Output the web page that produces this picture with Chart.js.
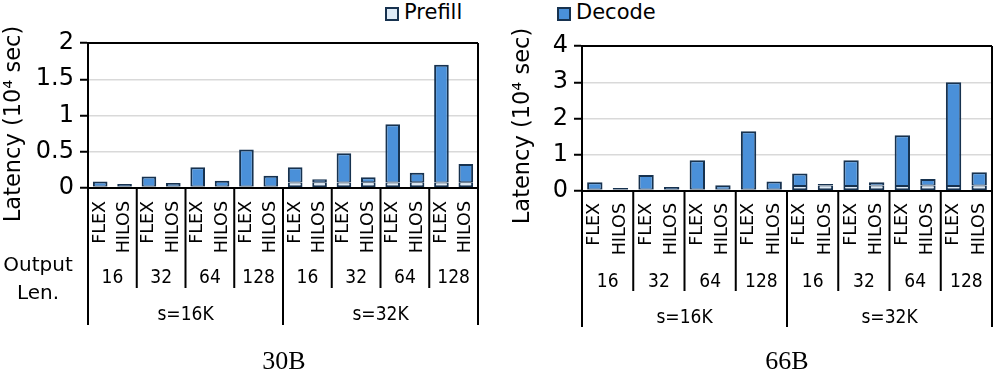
<!DOCTYPE html>
<html>
<head>
<meta charset="utf-8">
<script src="https://cdn.jsdelivr.net/npm/chart.js@4.4.0/dist/chart.umd.min.js"></script>
<style>
  body { margin: 0; background: #fff; }
  #page { position: relative; width: 997px; height: 372px; overflow: hidden; font-family: 'DejaVu Sans', sans-serif; }
  .panel { position: absolute; top: 0; }
  .key { position: absolute; top: 0; font-size: 21px; line-height: 24px; color: #000; }
  .box { position: absolute; top: 7px; width: 10px; height: 10px; border: 2px solid #17324f; }
</style>
</head>
<body>
<div id="page">
  <div class="box" style="left:385px;background:#deebf7"></div>
  <div class="key" style="left:404px">Prefill</div>
  <div class="box" style="left:557px;background:#4a90d9"></div>
  <div class="key" style="left:576px">Decode</div>
  <div class="panel" style="left:0"><canvas id="chart30" width="495" height="372"></canvas></div>
  <div class="panel" style="left:497px"><canvas id="chart66" width="500" height="372"></canvas></div>
</div>
<script>
// category levels
const systems = ['FLEX', 'HILOS'];
const outputLens = ['16', '32', '64', '128'];
const seqLens = ['s=16K', 's=32K'];

// 30B model, latency in 10^4 sec
const prefill30 = [0.02, 0.02, 0.02, 0.02, 0.02, 0.02, 0.02, 0.02, 0.075, 0.08, 0.075, 0.08, 0.075, 0.08, 0.075, 0.08];
const decode30 = [0.07, 0.035, 0.14, 0.05, 0.265, 0.08, 0.51, 0.15, 0.21, 0.04, 0.405, 0.07, 0.805, 0.13, 1.625, 0.25];
const ticks30 = [0, 0.5, 1, 1.5, 2];

// 66B model
const prefill66 = [0.04, 0.04, 0.04, 0.04, 0.04, 0.04, 0.04, 0.04, 0.14, 0.15, 0.14, 0.15, 0.14, 0.15, 0.14, 0.15];
const decode66 = [0.20, 0.04, 0.40, 0.07, 0.81, 0.12, 1.61, 0.22, 0.34, 0.04, 0.71, 0.09, 1.40, 0.18, 2.86, 0.37];
const ticks66 = [0, 1, 2, 3, 4];

const PREFILL_COLOR = '#deebf7';
const DECODE_COLOR = '#4a90d9';
const EDGE = '#17324f';
const FONT = "'DejaVu Sans', sans-serif";
const NARROW = "'DejaVu Sans Condensed', 'DejaVu Sans', sans-serif";

// flat category list, one entry per bar
const labels = seqLens.flatMap(() => outputLens.flatMap(() => systems));

// draws the nested category rows, frame lines, y title and caption
const groupAxisPlugin = {
  id: 'groupAxis',
  afterDraw(chart, args, o) {
    const ctx = chart.ctx;
    const xs = chart.scales.x;
    const a = chart.chartArea;
    const half = (xs.getPixelForValue(1) - xs.getPixelForValue(0)) / 2;
    ctx.save();
    ctx.fillStyle = '#000';
    ctx.strokeStyle = '#000';

    // FLEX / HILOS, rotated
    ctx.font = '17.5px ' + FONT;
    ctx.textAlign = 'right';
    ctx.textBaseline = 'middle';
    labels.forEach((lab, i) => {
      ctx.save();
      ctx.translate(xs.getPixelForValue(i), a.bottom + o.sysTop);
      ctx.rotate(-Math.PI / 2);
      ctx.fillText(lab, 0, 0);
      ctx.restore();
    });

    // output length row
    ctx.font = '19px ' + NARROW;
    ctx.textAlign = 'center';
    const nGroups = seqLens.length * outputLens.length;
    for (let g = 0; g < nGroups; g++) {
      const cx = (xs.getPixelForValue(2 * g) + xs.getPixelForValue(2 * g + 1)) / 2;
      ctx.fillText(outputLens[g % outputLens.length], cx, o.lenY);
    }
    // sequence row
    seqLens.forEach((s, k) => {
      const first = xs.getPixelForValue(k * 8);
      const last = xs.getPixelForValue(k * 8 + 7);
      ctx.fillText(s, (first + last) / 2, o.seqY);
    });

    // separators
    ctx.lineWidth = 2;
    ctx.beginPath();
    for (let g = 1; g < nGroups; g++) {
      const x = xs.getPixelForValue(2 * g) - half;
      ctx.moveTo(x, a.bottom);
      ctx.lineTo(x, g % outputLens.length === 0 ? o.seqEnd : o.lenEnd);
    }
    // frame
    ctx.moveTo(a.left, a.top);
    ctx.lineTo(a.right, a.top);
    ctx.moveTo(a.left, a.top);
    ctx.lineTo(a.left, o.seqEnd);
    ctx.moveTo(a.right, a.top);
    ctx.lineTo(a.right, o.seqEnd);
    ctx.moveTo(a.left, a.bottom);
    ctx.lineTo(a.right, a.bottom);
    ctx.stroke();

    // y title
    ctx.save();
    ctx.font = '22.5px ' + FONT;
    ctx.translate(o.titleX, o.titleY);
    ctx.rotate(-Math.PI / 2);
    ctx.fillText('Latency (10\u2074 sec)', 0, 0);
    ctx.restore();

    if (o.rowHead) {
      ctx.font = '20px ' + FONT;
      ctx.fillText('Output', o.rowHeadX, o.lenY - 12);
      ctx.fillText('Len.', o.rowHeadX, o.lenY + 16);
    }

    ctx.font = "26px 'Liberation Serif', serif";
    ctx.fillText(o.caption, o.captionX, o.captionY);
    ctx.restore();
  }
};

function makeChart(id, prefill, decode, tickVals, box) {
  const ctx = document.getElementById(id).getContext('2d');
  return new Chart(ctx, {
    type: 'bar',
    data: {
      labels: labels,
      datasets: [
        { label: 'Prefill', data: prefill, backgroundColor: PREFILL_COLOR, borderColor: EDGE,
          borderWidth: { left: 2, right: 2, bottom: 2, top: 1 }, borderSkipped: false },
        { label: 'Decode', data: decode, backgroundColor: DECODE_COLOR, borderColor: EDGE,
          borderWidth: { left: 2, right: 2, bottom: 1, top: 2 }, borderSkipped: false }
      ]
    },
    options: {
      responsive: false,
      animation: false,
      devicePixelRatio: 1,
      layout: { padding: { top: box.top, right: box.right, left: 0, bottom: 0 } },
      datasets: { bar: { barPercentage: 0.6, categoryPercentage: 1 } },
      scales: {
        x: {
          stacked: true,
          grid: { display: false },
          border: { display: false },
          ticks: { display: false },
          afterFit: (s) => { s.height = box.xHeight; }
        },
        y: {
          stacked: true,
          min: tickVals[0],
          max: tickVals[tickVals.length - 1],
          afterBuildTicks: (s) => { s.ticks = tickVals.map(v => ({ value: v })); },
          afterFit: (s) => { s.width = box.yWidth; },
          ticks: { color: '#000', padding: 6, font: { family: FONT, size: 24 }, callback: (v) => String(v) },
          grid: { color: '#d9d9d9', lineWidth: 1.5, tickLength: 8, tickColor: '#000', tickWidth: 2 },
          border: { color: '#000', width: 2 }
        }
      },
      plugins: {
        legend: { display: false },
        tooltip: { enabled: false },
        groupAxis: box.axis
      }
    },
    plugins: [groupAxisPlugin]
  });
}

makeChart('chart30', prefill30, decode30, ticks30, {
  top: 43, right: 17, xHeight: 184, yWidth: 88,
  axis: { sysTop: 13, lenY: 278, seqY: 315, lenEnd: 288, seqEnd: 325,
          titleX: 14, titleY: 124, rowHead: true, rowHeadX: 38,
          caption: '30B', captionX: 284, captionY: 362 }
});

makeChart('chart66', prefill66, decode66, ticks66, {
  top: 46, right: 5, xHeight: 181, yWidth: 85,
  axis: { sysTop: 12, lenY: 282, seqY: 318, lenEnd: 291, seqEnd: 327,
          titleX: 26, titleY: 126, rowHead: false,
          caption: '66B', captionX: 290, captionY: 362 }
});
</script>
</body>
</html>
